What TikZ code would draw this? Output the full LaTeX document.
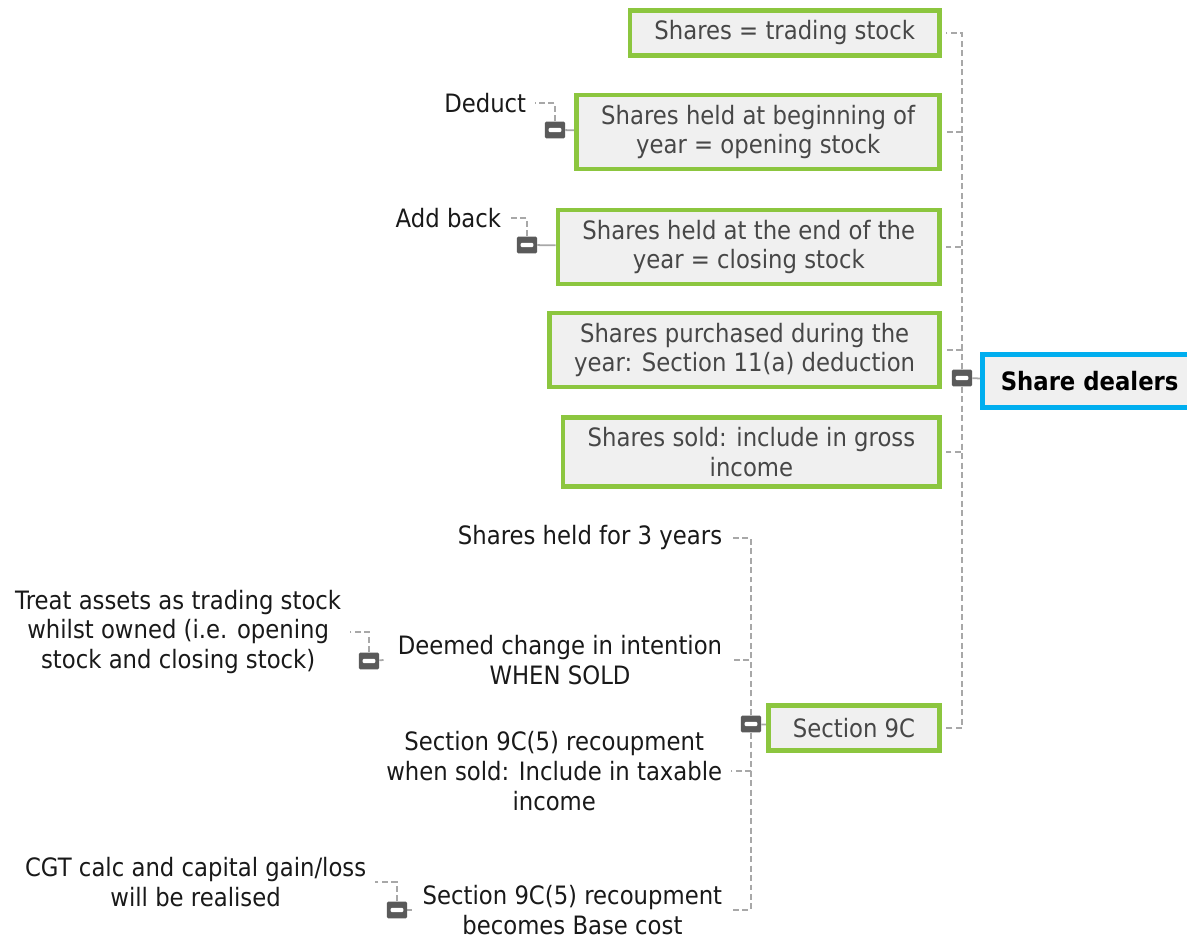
\documentclass[tikz,border=0pt]{standalone}
\usepackage{fontspec}
\setmainfont{DejaVu Sans}[FakeStretch=0.9]
\usetikzlibrary{positioning,backgrounds}
\definecolor{boxgreen}{HTML}{8CC63F}
\definecolor{boxblue}{HTML}{00AEEF}
\definecolor{boxfill}{HTML}{F0F0F0}
\definecolor{linegray}{HTML}{A8A8A8}
\definecolor{markgray}{HTML}{5A5A5A}

\begin{document}
\begin{tikzpicture}[x=0.02cm,y=-0.02cm,font=\fontsize{14.4}{17}\selectfont,
  topic/.style={draw=boxgreen,line width=2.6pt,fill=boxfill,text=black!72,align=center,
    inner xsep=14pt,inner ysep=5.6pt,anchor=east},
  root/.style={draw=boxblue,line width=2.8pt,fill=boxfill,font=\fontsize{14.4}{17}\selectfont\bfseries,
    minimum width=122pt,minimum height=30pt,anchor=west},
  leaf/.style={align=center,inner sep=2pt,anchor=east,text=black!90},
  fold/.style={fill=markgray,rounded corners=0.8pt,minimum width=11.5pt,minimum height=9.5pt,inner sep=0pt,
    path picture={\fill[white,rounded corners=0.6pt] ([xshift=-3.6pt,yshift=-1.2pt]path picture bounding box.center) rectangle ++(7.2pt,2.4pt);}},
  conn/.style={draw=linegray,line width=1pt,dash pattern=on 3.4pt off 2pt},
  tie/.style={draw=linegray,line width=1pt}]
  \useasboundingbox (0,0) rectangle (1187,938);

  % root
  \node[root] (sd) at (980,381) {Share dealers};
  \node[fold] (m0) at (962,378) {};

  % first level
  \node[topic,minimum height=25.7pt] (b1) at (942,33) {Shares = trading stock};
  \node[topic] (b2) at (942,132) {Shares held at beginning of\\year = opening stock};
  \node[topic] (b3) at (942,247) {Shares held at the end of the\\year = closing stock};
  \node[topic] (b4) at (942,350) {Shares purchased during the\\year: Section 11(a) deduction};
  \node[topic] (b5) at (942,452) {Shares sold: include in gross\\income};
  \node[topic,minimum height=25.7pt] (s9) at (942,728) {Section 9C};

  \node[fold] (m2) at (555,130) {};
  \node[fold] (m3) at (527,245) {};
  \node[fold] (m9) at (751,724) {};

  % second level
  \node[leaf] (deduct) at (530,103) {Deduct};
  \node[leaf] (addback) at (505,218) {Add back};
  \node[leaf] (t1) at (726,538) {Shares held for 3 years};
  \node[leaf] (t2) at (726,660) {Deemed change in intention\\WHEN SOLD};
  \node[leaf] (t3) at (726,771) {Section 9C(5) recoupment\\when sold: Include in taxable\\income};
  \node[leaf] (t4) at (726,910) {Section 9C(5) recoupment\\becomes Base cost};

  \node[fold] (m5) at (369,661) {};
  \node[fold] (m6) at (397,910) {};

  % third level
  \node[leaf] (treat) at (345,632) {Treat assets as trading stock\\whilst owned (i.e. opening\\stock and closing stock)};
  \node[leaf] (cgt) at (370,882) {CGT calc and capital gain/loss\\will be realised};

  \begin{scope}[on background layer]
    \draw[tie] (m0) -- (sd);
    \draw[tie] (m2) -- (b2);
    \draw[tie] (m3) -- (b3);
    \draw[tie] (m9) -- (s9);
    \draw[tie] (m5) -- ([xshift=-6pt]t2.west);
    \draw[tie] (m6) -- ([xshift=-4pt]t4.west);
    \foreach \c in {b1,b2,b3,b4,b5,s9}
      \draw[conn] (m0) |- ([xshift=2pt]\c.east);
    \draw[conn] (m2) |- ([xshift=3pt]deduct.east);
    \draw[conn] (m3) |- ([xshift=3pt]addback.east);
    \foreach \c in {t1,t2,t3,t4}
      \draw[conn] (m9) |- ([xshift=3pt]\c.east);
    \draw[conn] (m5) |- ([xshift=3pt]treat.east);
    \draw[conn] (m6) |- ([xshift=3pt]cgt.east);
  \end{scope}
\end{tikzpicture}
\end{document}
